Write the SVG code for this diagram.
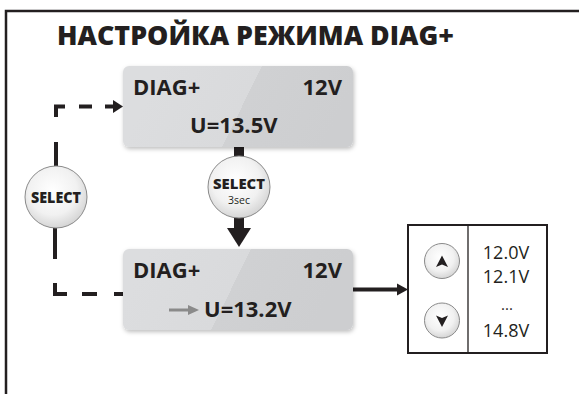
<svg xmlns="http://www.w3.org/2000/svg" width="579" height="394" viewBox="0 0 579 394">
<defs>
<style>
.t{font-family:"Open Sans","Liberation Sans",sans-serif;fill:#231f20}
.b{font-weight:bold}
.xb{font-weight:800}
.lbl{font-size:22px;font-weight:bold}
.btn{fill:url(#btnGrad);stroke:#8a8a8a;stroke-width:1}
.box{stroke:none;filter:url(#sh)}
.dash{stroke:#231f20;stroke-width:4;fill:none}
</style>
<filter id="sh" x="-10%" y="-15%" width="125%" height="140%">
<feDropShadow dx="1" dy="2" stdDeviation="2" flood-color="#000" flood-opacity="0.25"/>
</filter>
<radialGradient id="btnGrad" cx="0.45" cy="0.4" r="0.65">
<stop offset="0" stop-color="#ffffff"/>
<stop offset="0.6" stop-color="#f1f1f1"/>
<stop offset="1" stop-color="#cfcfcf"/>
</radialGradient>
<linearGradient id="g1" gradientUnits="userSpaceOnUse" x1="161" y1="66.5" x2="323" y2="146.5">
<stop offset="0" stop-color="#dcdddf"/>
<stop offset="0.5" stop-color="#d9dadc"/>
<stop offset="0.5" stop-color="#d0d1d3"/>
<stop offset="1" stop-color="#cdced0"/>
</linearGradient>
<linearGradient id="g2" gradientUnits="userSpaceOnUse" x1="150" y1="249.5" x2="312" y2="329.5">
<stop offset="0" stop-color="#dcdddf"/>
<stop offset="0.5" stop-color="#d9dadc"/>
<stop offset="0.5" stop-color="#d0d1d3"/>
<stop offset="1" stop-color="#cdced0"/>
</linearGradient>
</defs>
<rect width="579" height="394" fill="#ffffff"/>
<!-- frame -->
<path d="M6,394 V11 H579" fill="none" stroke="#231f20" stroke-width="2.5"/>
<text class="t xb" x="57" y="45" font-size="27" textLength="397" lengthAdjust="spacingAndGlyphs">НАСТРОЙКА РЕЖИМА DIAG+</text>

<g id="connectors">
<!-- upper dashed loop -->
<path class="dash" d="M56,117 V106.5 H65"/>
<line class="dash" x1="79" y1="106.5" x2="92" y2="106.5"/>
<line class="dash" x1="105" y1="106.5" x2="114" y2="106.5"/>
<polygon points="113,100 123,106.5 113,113" fill="#231f20"/>
<line class="dash" x1="56" y1="142" x2="56" y2="166"/>
<!-- lower dashed loop -->
<line class="dash" x1="55" y1="228" x2="55" y2="259"/>
<path class="dash" d="M55,283 V294 H67"/>
<line class="dash" x1="82" y1="294" x2="97" y2="294"/>
<line class="dash" x1="114" y1="294" x2="124" y2="294"/>
<!-- select 3sec -->
<rect x="234" y="146" width="10" height="11" fill="#231f20"/>
<rect x="234" y="216" width="10" height="13" fill="#231f20"/>
<polygon points="227,228 251,228 239,247" fill="#231f20"/>
<!-- to list -->
<line x1="353" y1="289.5" x2="399" y2="289.5" stroke="#231f20" stroke-width="4"/>
<polygon points="397,283.5 408,289.5 397,295.5" fill="#231f20"/>
</g>

<g id="box1">
<rect class="box" x="123" y="66" width="230" height="81" rx="6" fill="url(#g1)"/>
<text class="t lbl" x="133" y="95">DIAG+</text>
<text class="t lbl" x="342" y="95" text-anchor="end">12V</text>
<text class="t lbl" x="190" y="133">U=13.5V</text>
</g>

<g id="box2">
<rect class="box" x="123" y="249" width="230" height="81" rx="6" fill="url(#g2)"/>
<text class="t lbl" x="133" y="278">DIAG+</text>
<text class="t lbl" x="342" y="278" text-anchor="end">12V</text>
<line x1="169" y1="310" x2="190" y2="310" stroke="#8a8a8a" stroke-width="3"/>
<polygon points="188,305 199,310 188,315" fill="#8a8a8a"/>
<text class="t lbl" x="204" y="317">U=13.2V</text>
</g>

<g id="select-left">
<circle class="btn" cx="56" cy="197" r="31"/>
<text class="t xb" x="56" y="203" font-size="15" text-anchor="middle" textLength="50" lengthAdjust="spacingAndGlyphs">SELECT</text>
</g>

<g id="select-3sec">
<circle class="btn" cx="239" cy="187" r="31"/>
<text class="t xb" x="239" y="189" font-size="14.5" text-anchor="middle" textLength="52" lengthAdjust="spacingAndGlyphs">SELECT</text>
<text class="t" x="239" y="204" font-size="10.5" text-anchor="middle">3sec</text>
</g>

<g id="list">
<rect x="408" y="225" width="139" height="128" fill="#ffffff" stroke="#231f20" stroke-width="2"/>
<line x1="468" y1="225" x2="468" y2="353" stroke="#231f20" stroke-width="1.3"/>
<circle class="btn" cx="442" cy="261" r="17.5"/>
<path d="M442,255.5 L448,267 L442,264.5 L436,267 Z" fill="#231f20"/>
<circle class="btn" cx="442" cy="320.5" r="17.5"/>
<path d="M442,327 L448,315.5 L442,318 L436,315.5 Z" fill="#231f20"/>
<text class="t" x="506" y="259" font-size="18" text-anchor="middle">12.0V</text>
<text class="t" x="506" y="283" font-size="18" text-anchor="middle">12.1V</text>
<text class="t" x="507" y="310" font-size="15" text-anchor="middle">...</text>
<text class="t" x="506" y="337" font-size="18" text-anchor="middle">14.8V</text>
</g>
</svg>
